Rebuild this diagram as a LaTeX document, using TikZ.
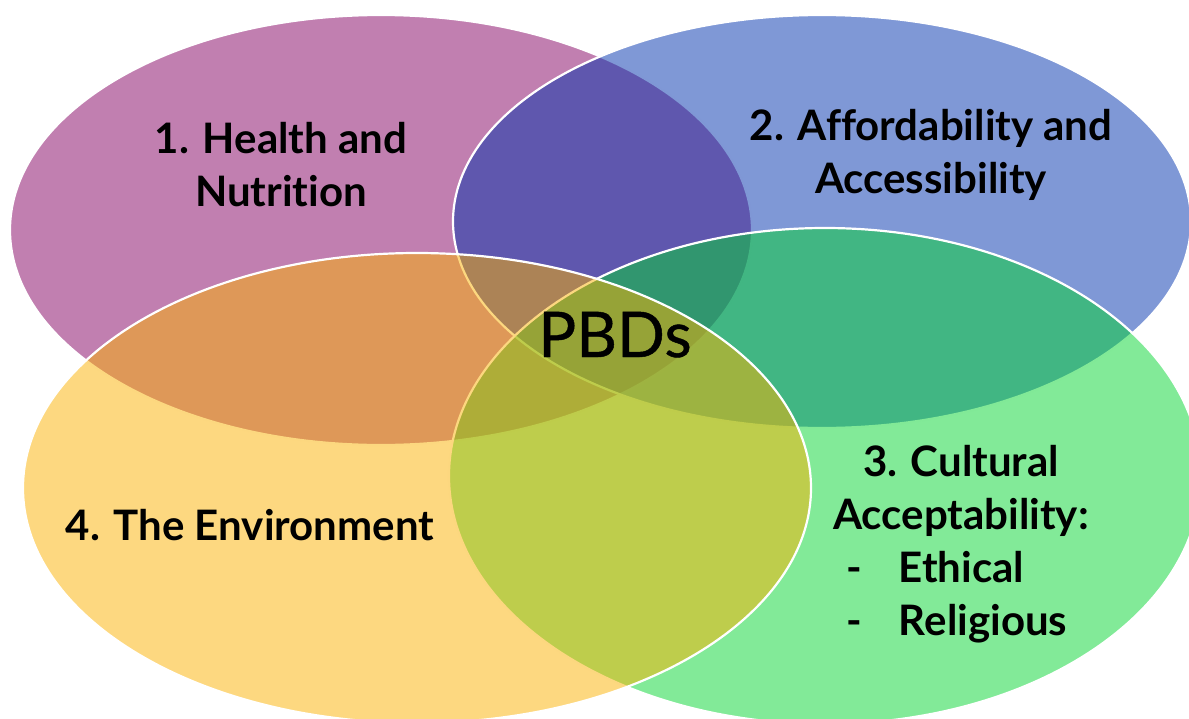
\documentclass[tikz,border=0pt]{standalone}
\usepackage{fontspec}
\setmainfont{Lato}[Ligatures=NoCommon]
\newfontfamily\corefont{Lato}[Ligatures=NoCommon, FakeBold=0.7]
\usetikzlibrary{shapes.geometric}

% base colours of the four circles, laid at half opacity
\definecolor{fillP}{RGB}{131,0,97}
\definecolor{fillB}{RGB}{0,49,173}
\definecolor{fillG}{RGB}{5,213,49}
\definecolor{fillY}{RGB}{251,177,1}

\tikzset{
  petal/.style={ellipse, draw=white, line width=2.2pt, fill opacity=0.5,
    inner sep=0pt, outer sep=0pt},
  lbl/.style={font=\fontsize{42}{53}\selectfont\bfseries, text=black,
    inner sep=0pt, anchor=base},
  core/.style={font=\corefont\fontsize{63}{70}\selectfont, text=black,
    inner sep=0pt, anchor=base},
}

\begin{document}
\begin{tikzpicture}[x=1pt,y=-1pt]
\useasboundingbox (0,0) rectangle (1189,718);

% the four overlapping ellipses, bottom layer first
\node[petal, fill=fillP, minimum width=742pt, minimum height=430pt] (health) at (381,230) {};
\node[petal, fill=fillB, minimum width=738pt, minimum height=413pt] (afford) at (822,221.5) {};
\node[petal, fill=fillG, minimum width=752pt, minimum height=496pt] (culture) at (825,476) {};
\node[petal, fill=fillY, minimum width=788pt, minimum height=470pt] (environ) at (417,488) {};

% labels
\node[lbl] (t1) at (281,153) {\begin{tabular}[t]{@{}c@{}}1. Health and\\Nutrition\end{tabular}};
\node[lbl] (t2) at (931,140) {\begin{tabular}[t]{@{}c@{}}2. Affordability and\\Accessibility\end{tabular}};
\node[lbl] (t3) at (961,476) {\begin{tabular}[t]{@{}c@{}}3. Cultural\\Acceptability:\\
  \makebox[262pt][l]{\hspace*{16pt}\makebox[53pt][l]{-}Ethical}\\
  \makebox[262pt][l]{\hspace*{16pt}\makebox[53pt][l]{-}Religious}\end{tabular}};
\node[lbl] (t4) at (250,540) {4. The Environment};
\node[core] (pbd) at (615,357) {PBDs};
\end{tikzpicture}
\end{document}
